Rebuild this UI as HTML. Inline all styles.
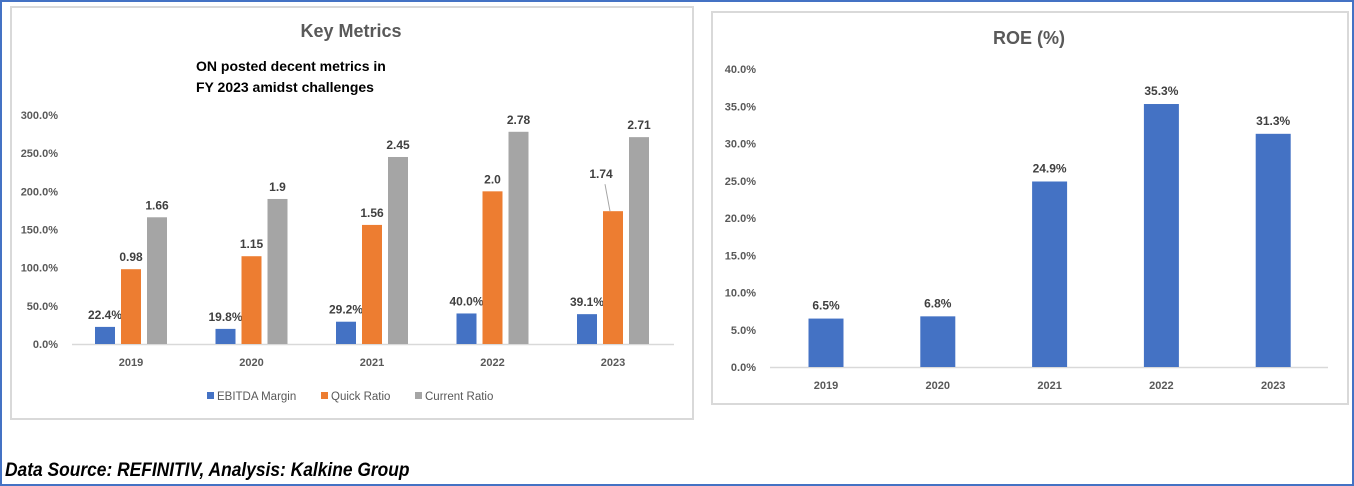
<!DOCTYPE html>
<html><head><meta charset="utf-8"><style>
body{margin:0;width:1354px;height:486px;overflow:hidden;background:#fff;font-family:"Liberation Sans",sans-serif}
#frame{position:absolute;left:0;top:0;width:1350px;height:482px;border:2px solid #4472c4}
.panel{position:absolute;border:2px solid #d9d9d9;background:#fff}
svg text{font-family:"Liberation Sans",sans-serif}
#foot{position:absolute;left:5px;top:460px;font-size:19px;font-style:italic;font-weight:bold;color:#000;transform:scaleX(0.915);transform-origin:0 0;white-space:nowrap}
</style></head><body>
<div id="frame"></div>
<div class="panel" style="left:10px;top:6px;width:680px;height:410px"></div>
<div class="panel" style="left:711px;top:11px;width:634px;height:390px"></div>
<svg id="svg" width="1354" height="486" style="position:absolute;left:0;top:0"></svg>
<div id="foot">Data Source: REFINITIV, Analysis: Kalkine Group</div>
<script>
const years=["2019","2020","2021","2022","2023"];
const ebitda=[22.4,19.8,29.2,40.0,39.1];
const quick=[98,115,156,200,174];
const current=[166,190,245,278,271];
const quickLabels=["0.98","1.15","1.56","2.0","1.74"];
const currentLabels=["1.66","1.9","2.45","2.78","2.71"];
const leftTicks=[0,50,100,150,200,250,300];
const roe=[6.5,6.8,24.9,35.3,31.3];
const rightTicks=[0,5,10,15,20,25,30,35,40];
const NS="http://www.w3.org/2000/svg";
const svg=document.getElementById('svg');
function mk(t,a,txt){const e=document.createElementNS(NS,t);for(const k in a)e.setAttribute(k,a[k]);if(txt!==undefined)e.textContent=txt;svg.appendChild(e);return e;}
const ly=v=>344-v*(229/300);
const lx=i=>131+i*120.5;
let e;
e=mk('text',{x:351,y:37,'text-anchor':'middle','font-size':18,'font-weight':'bold',fill:'#595959'},'Key Metrics');

e=mk('text',{x:196,y:71,'font-size':14,'font-weight':'bold',fill:'#000'},'ON posted decent metrics in');

e=mk('text',{x:196,y:92,'font-size':14,'font-weight':'bold',fill:'#000'},'FY 2023 amidst challenges');

leftTicks.forEach(t=>{e=mk('text',{x:58,y:ly(t)+4,'text-anchor':'end','font-size':11,'font-weight':'bold',fill:'#595959'},t.toFixed(1)+'%');
});
e=mk('line',{x1:72,x2:674,y1:344.5,y2:344.5,stroke:'#d9d9d9','stroke-width':1.5});

const series=[[ebitda,'#4472c4',-26,ebitda.map(v=>v.toFixed(1)+'%'),'ebitda'],[quick,'#ed7d31',0,quickLabels,'quick'],[current,'#a5a5a5',26,currentLabels,'current']];
years.forEach((y,i)=>{
 series.forEach(s=>{const v=s[0][i],cx=lx(i)+s[2];
  e=mk('rect',{x:cx-10,y:ly(v),width:20,height:344-ly(v),fill:s[1]});
  
  let tx=cx,ty=ly(v)-8;
  if(s[4]==='quick'&&i===4){tx=cx-12;ty=ly(v)-33;mk('line',{x1:cx-8,y1:ty+6,x2:cx-3,y2:ly(v),stroke:'#a5a5a5'});}
  e=mk('text',{x:tx,y:ty,'text-anchor':'middle','font-size':12,'font-weight':'bold',fill:'#404040'},s[3][i]);
  
 });
 e=mk('text',{x:lx(i),y:366,'text-anchor':'middle','font-size':11,'font-weight':'bold',fill:'#595959'},y);
 
});
[['EBITDA Margin','#4472c4',207],['Quick Ratio','#ed7d31',321],['Current Ratio','#a5a5a5',415]].forEach(l=>{
 e=mk('rect',{x:l[2],y:392,width:7,height:7,fill:l[1]});
 
 e=mk('text',{x:l[2]+10,y:400,'font-size':11.5,fill:'#595959'},l[0]);
 
});
const ry=v=>367-v*(298/40);
const rx=i=>826+i*111.8;
e=mk('text',{x:1029,y:44,'text-anchor':'middle','font-size':18,'font-weight':'bold',fill:'#595959'},'ROE (%)');

rightTicks.forEach(t=>{e=mk('text',{x:756,y:ry(t)+4,'text-anchor':'end','font-size':11,'font-weight':'bold',fill:'#595959'},t.toFixed(1)+'%');
});
e=mk('line',{x1:770,x2:1328,y1:367.5,y2:367.5,stroke:'#d9d9d9','stroke-width':1.5});

years.forEach((y,i)=>{
 e=mk('rect',{x:rx(i)-17.5,y:ry(roe[i]),width:35,height:367-ry(roe[i]),fill:'#4472c4'});
 
 e=mk('text',{x:rx(i),y:ry(roe[i])-9,'text-anchor':'middle','font-size':12,'font-weight':'bold',fill:'#404040'},roe[i].toFixed(1)+'%');
 
 e=mk('text',{x:rx(i),y:389,'text-anchor':'middle','font-size':11,'font-weight':'bold',fill:'#595959'},y);
 
});
</script>
</body></html>
